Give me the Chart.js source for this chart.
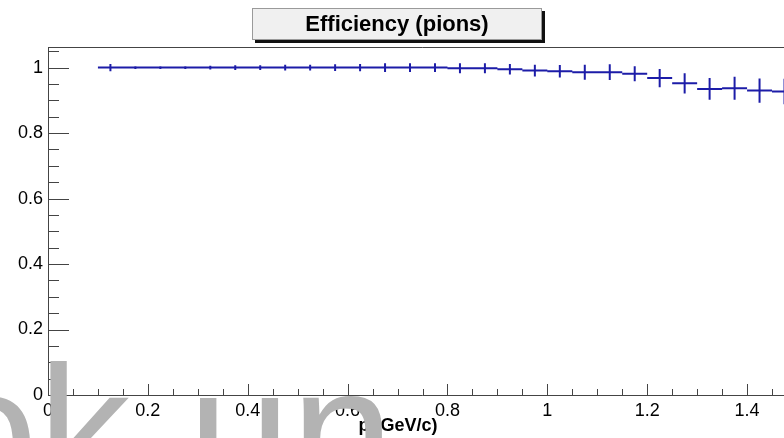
<!DOCTYPE html>
<html>
<head>
<meta charset="utf-8">
<title>Efficiency (pions)</title>
<script src="https://cdn.jsdelivr.net/npm/chart.js@4.4.1/dist/chart.umd.min.js"></script>
<style>
  html, body { margin: 0; padding: 0; background: #fff; overflow: hidden; }
  #wrap { width: 784px; height: 438px; overflow: hidden; }
</style>
</head>
<body>
<div id="wrap"><canvas id="eff" width="830" height="438"></canvas></div>
<script>
// pion efficiency vs momentum, 0.05 GeV/c bins
const binCenters = [0.125, 0.175, 0.225, 0.275, 0.325, 0.375, 0.425, 0.475, 0.525, 0.575,
                    0.625, 0.675, 0.725, 0.775, 0.825, 0.875, 0.925, 0.975, 1.025, 1.075,
                    1.125, 1.175, 1.225, 1.275, 1.325, 1.375, 1.425, 1.475];
const efficiency = [1.0, 1.0, 1.0, 1.0, 1.0, 1.0, 1.0, 1.0, 1.0, 1.0,
                    1.0, 1.0, 1.0, 1.0, 0.998, 0.998, 0.995, 0.991, 0.989, 0.986,
                    0.986, 0.981, 0.968, 0.952, 0.935, 0.937, 0.930, 0.927];
const effError = [0.011, 0.004, 0.004, 0.004, 0.006, 0.007, 0.007, 0.009, 0.009, 0.010,
                  0.011, 0.013, 0.013, 0.013, 0.015, 0.015, 0.016, 0.018, 0.019, 0.023,
                  0.024, 0.023, 0.028, 0.031, 0.033, 0.035, 0.037, 0.039];
const binHalfWidth = 0.025;

const xTickValues = [0, 0.2, 0.4, 0.6, 0.8, 1, 1.2, 1.4];
const yTickValues = [0, 0.2, 0.4, 0.6, 0.8, 1];
const minorStep = 0.05;

const plotTitle = 'Efficiency (pions)';
const xTitle = 'p (GeV/c)';
const stampParts = ['ok', 'un'];

const lineColor = '#1c1ca8';
const axisColor = '#444';

function fmt(v) { return String(+v.toFixed(2)); }

// frame, inward ticks (major + minor), titles
const rootFrame = {
  id: 'rootFrame',
  afterDraw(chart) {
    const { ctx, chartArea: a, scales: { x, y } } = chart;
    ctx.save();
    ctx.strokeStyle = axisColor;
    ctx.lineWidth = 1;
    ctx.beginPath();
    ctx.moveTo(a.left + 0.5, a.top + 0.5);
    ctx.lineTo(a.right, a.top + 0.5);
    ctx.moveTo(a.left + 0.5, a.top);
    ctx.lineTo(a.left + 0.5, a.bottom + 0.5);
    ctx.lineTo(a.right, a.bottom + 0.5);
    ctx.lineTo(a.right, a.top);
    // y ticks
    for (let v = 0; v <= y.max + 1e-9; v += minorStep) {
      const major = yTickValues.some(t => Math.abs(t - v) < 1e-6);
      const py = Math.round(y.getPixelForValue(v)) + 0.5;
      ctx.moveTo(a.left, py);
      ctx.lineTo(a.left + (major ? 21 : 11), py);
    }
    // x ticks
    for (let v = 0; v <= x.max + 1e-9; v += minorStep) {
      const major = xTickValues.some(t => Math.abs(t - v) < 1e-6);
      const px = Math.round(x.getPixelForValue(v)) + 0.5;
      ctx.moveTo(px, a.bottom);
      ctx.lineTo(px, a.bottom - (major ? 11 : 6));
    }
    ctx.stroke();

    // title box with shadow
    const bx = 252, by = 8, bw = 290, bh = 32;
    ctx.fillStyle = '#111';
    ctx.fillRect(bx + 3, by + 3, bw, bh);
    ctx.fillStyle = '#f0f0f0';
    ctx.fillRect(bx, by, bw, bh);
    ctx.strokeStyle = '#9a9a9a';
    ctx.strokeRect(bx + 0.5, by + 0.5, bw - 1, bh - 1);
    ctx.fillStyle = '#000';
    ctx.font = 'bold 22px "Liberation Sans", Arial, sans-serif';
    ctx.textAlign = 'center';
    ctx.textBaseline = 'middle';
    ctx.fillText(plotTitle, bx + bw / 2, by + bh / 2 + 1);

    // axis title
    ctx.font = 'bold 18px "Liberation Sans", Arial, sans-serif';
    ctx.fillText(xTitle, 398, 426);

    // grey stamp over the lower left
    ctx.fillStyle = '#b3b3b3';
    ctx.font = '185px "Liberation Sans", Arial, sans-serif';
    ctx.textAlign = 'left';
    ctx.textBaseline = 'alphabetic';
    ctx.fillText(stampParts[0], -65, 496);
    ctx.fillText(stampParts[1], 188, 496);
    ctx.restore();
  }
};

// bin-width horizontal bars and vertical error bars
const errorBars = {
  id: 'errorBars',
  afterDatasetsDraw(chart) {
    const { ctx, scales: { x, y } } = chart;
    ctx.save();
    ctx.strokeStyle = lineColor;
    ctx.lineWidth = 2;
    ctx.beginPath();
    binCenters.forEach((c, i) => {
      const py = y.getPixelForValue(efficiency[i]);
      ctx.moveTo(x.getPixelForValue(c - binHalfWidth), py);
      ctx.lineTo(x.getPixelForValue(c + binHalfWidth), py);
      const px = x.getPixelForValue(c);
      ctx.moveTo(px, y.getPixelForValue(efficiency[i] + effError[i]));
      ctx.lineTo(px, y.getPixelForValue(efficiency[i] - effError[i]));
    });
    ctx.stroke();
    ctx.restore();
  }
};

new Chart(document.getElementById('eff'), {
  type: 'scatter',
  data: {
    datasets: [{
      label: plotTitle,
      data: binCenters.map((c, i) => ({ x: c, y: efficiency[i] })),
      pointRadius: 0,
      borderColor: lineColor,
      showLine: false
    }]
  },
  options: {
    responsive: false,
    animation: false,
    layout: { padding: { top: 47, right: 33, bottom: 0, left: 0 } },
    plugins: { legend: { display: false }, tooltip: { enabled: false }, title: { display: false } },
    scales: {
      x: {
        type: 'linear', min: 0, max: 1.5,
        grid: { display: false, drawTicks: false },
        border: { display: false },
        afterBuildTicks: s => { s.ticks = xTickValues.map(v => ({ value: v })); },
        afterFit: s => { s.height = 43; },
        ticks: { callback: fmt, autoSkip: false, maxRotation: 0, padding: 5, color: '#000',
                 font: { family: '"Liberation Sans", Arial, sans-serif', size: 18 } }
      },
      y: {
        type: 'linear', min: 0, max: 1.063,
        grid: { display: false, drawTicks: false },
        border: { display: false },
        afterBuildTicks: s => { s.ticks = yTickValues.map(v => ({ value: v })); },
        afterFit: s => { s.width = 48; },
        ticks: { callback: fmt, padding: 5, color: '#000',
                 font: { family: '"Liberation Sans", Arial, sans-serif', size: 18 } }
      }
    }
  },
  plugins: [errorBars, rootFrame]
});
</script>
</body>
</html>
